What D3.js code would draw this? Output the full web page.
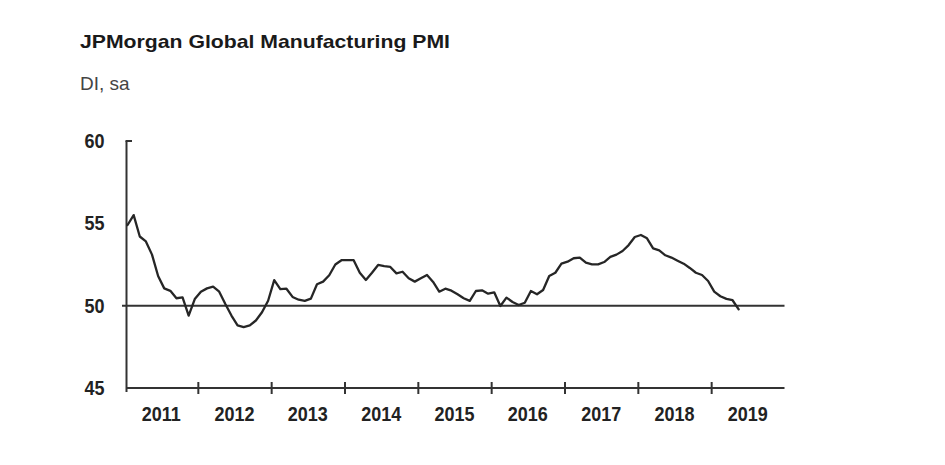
<!DOCTYPE html>
<html>
<head>
<meta charset="utf-8">
<script src="https://cdn.jsdelivr.net/npm/d3@7/dist/d3.min.js"></script>
<style>
  html, body { margin: 0; padding: 0; background: #fff; }
  svg { display: block; }
  text { font-family: "Liberation Sans", Arial, sans-serif; }
</style>
</head>
<body>
<svg id="chart" width="945" height="465"></svg>
<script>
// ---- data (monthly, Jan 2011 - May 2019) ----
const startYear = 2011;
const yearLabels = ["2011", "2012", "2013", "2014", "2015", "2016", "2017", "2018", "2019"];
const yTicks = [45, 50, 55, 60];
const pmi2011 = [54.9, 55.5, 54.2, 53.9, 53.1, 51.8, 51.05, 50.9, 50.45, 50.5, 49.4, 50.4];
const pmi2012 = [50.85, 51.05, 51.15, 50.85, 50.1, 49.4, 48.8, 48.7, 48.8, 49.1, 49.6, 50.3];
const pmi2013 = [51.55, 51.0, 51.03, 50.53, 50.36, 50.29, 50.43, 51.3, 51.46, 51.85, 52.5, 52.76];
const pmi2014 = [52.76, 52.76, 52.0, 51.56, 52.0, 52.47, 52.4, 52.35, 51.96, 52.06, 51.66, 51.46];
const pmi2015 = [51.66, 51.86, 51.44, 50.85, 51.03, 50.91, 50.69, 50.45, 50.29, 50.89, 50.93, 50.73];
const pmi2016 = [50.81, 49.98, 50.49, 50.22, 50.04, 50.18, 50.89, 50.69, 50.95, 51.8, 52.0, 52.55];
const pmi2017 = [52.67, 52.88, 52.92, 52.61, 52.51, 52.51, 52.65, 52.96, 53.1, 53.32, 53.68, 54.17];
const pmi2018 = [54.29, 54.09, 53.48, 53.36, 53.06, 52.92, 52.73, 52.55, 52.29, 52.0, 51.86, 51.5];
const pmi2019 = [50.85, 50.57, 50.41, 50.33, 49.78];
const refLevel = 50;

const values = [].concat(pmi2011, pmi2012, pmi2013, pmi2014, pmi2015, pmi2016, pmi2017, pmi2018, pmi2019);
const data = values.map((v, i) => ({ m: i, v: v }));

const svg = d3.select("#chart");
svg.append("rect").attr("width", 945).attr("height", 465).attr("fill", "#fff");

const nMonths = yearLabels.length * 12;
const x = d3.scaleLinear().domain([0, nMonths]).range([124.5, 784.5]);
const y = d3.scaleLinear().domain([45, 60]).range([388, 141]);
const axisColor = "#333";
const stretch = "scale(1,1.15)";

// title
svg.append("text").attr("x", 80).attr("y", 48)
  .attr("font-size", 18.5).attr("font-weight", "bold").attr("fill", "#1a1a1a")
  .attr("textLength", 370).attr("lengthAdjust", "spacingAndGlyphs")
  .text("JPMorgan Global Manufacturing PMI");
svg.append("text").attr("x", 80).attr("y", 90)
  .attr("font-size", 19).attr("fill", "#444")
  .text("DI, sa");

// y axis
const yAxis = d3.axisLeft(y).tickValues(yTicks).tickSize(0).tickPadding(22);
const gy = svg.append("g").attr("transform", "translate(126.5,0)").call(yAxis);
gy.select(".domain").attr("stroke", axisColor).attr("stroke-width", 2)
  .attr("d", `M0,${y(60)}V${y(45) + 4}`);
gy.selectAll(".tick text").attr("font-size", 18).attr("font-weight", "bold")
  .attr("fill", "#222").attr("font-family", "Liberation Sans, Arial, sans-serif")
  .attr("transform", stretch);
// small inward tick at top
svg.append("line").attr("x1", 125.5).attr("x2", 132).attr("y1", y(60)).attr("y2", y(60))
  .attr("stroke", axisColor).attr("stroke-width", 2);

// x axis
const yearBounds = d3.range(12, nMonths, 12);
const xAxis = d3.axisBottom(x).tickValues(yearBounds).tickFormat("").tickSizeInner(6).tickSizeOuter(0);
const gx = svg.append("g").attr("transform", `translate(0,${y(45)})`).call(xAxis);
gx.select(".domain").attr("stroke", axisColor).attr("stroke-width", 2)
  .attr("d", `M126.5,0H${x(nMonths)}`);
gx.selectAll(".tick line").attr("stroke", axisColor).attr("stroke-width", 2).attr("y1", -6).attr("y2", 6);

// year labels centred in each year
svg.append("g").selectAll("text").data(yearLabels).join("text")
  .attr("transform", (d, i) => `translate(${x(i * 12 + 6)},421) ${stretch}`)
  .attr("text-anchor", "middle")
  .attr("font-size", 18).attr("font-weight", "bold").attr("fill", "#222")
  .text(d => d);

// reference line at 50
svg.append("line").attr("x1", 122).attr("x2", x(nMonths))
  .attr("y1", y(refLevel)).attr("y2", y(refLevel))
  .attr("stroke", axisColor).attr("stroke-width", 2);

// PMI line
const line = d3.line().x(d => x(d.m + 0.5)).y(d => y(d.v));
svg.append("path").datum(data).attr("d", line)
  .attr("fill", "none").attr("stroke", "#262626").attr("stroke-width", 2.3)
  .attr("stroke-linejoin", "round").attr("stroke-linecap", "round");
</script>
</body>
</html>
